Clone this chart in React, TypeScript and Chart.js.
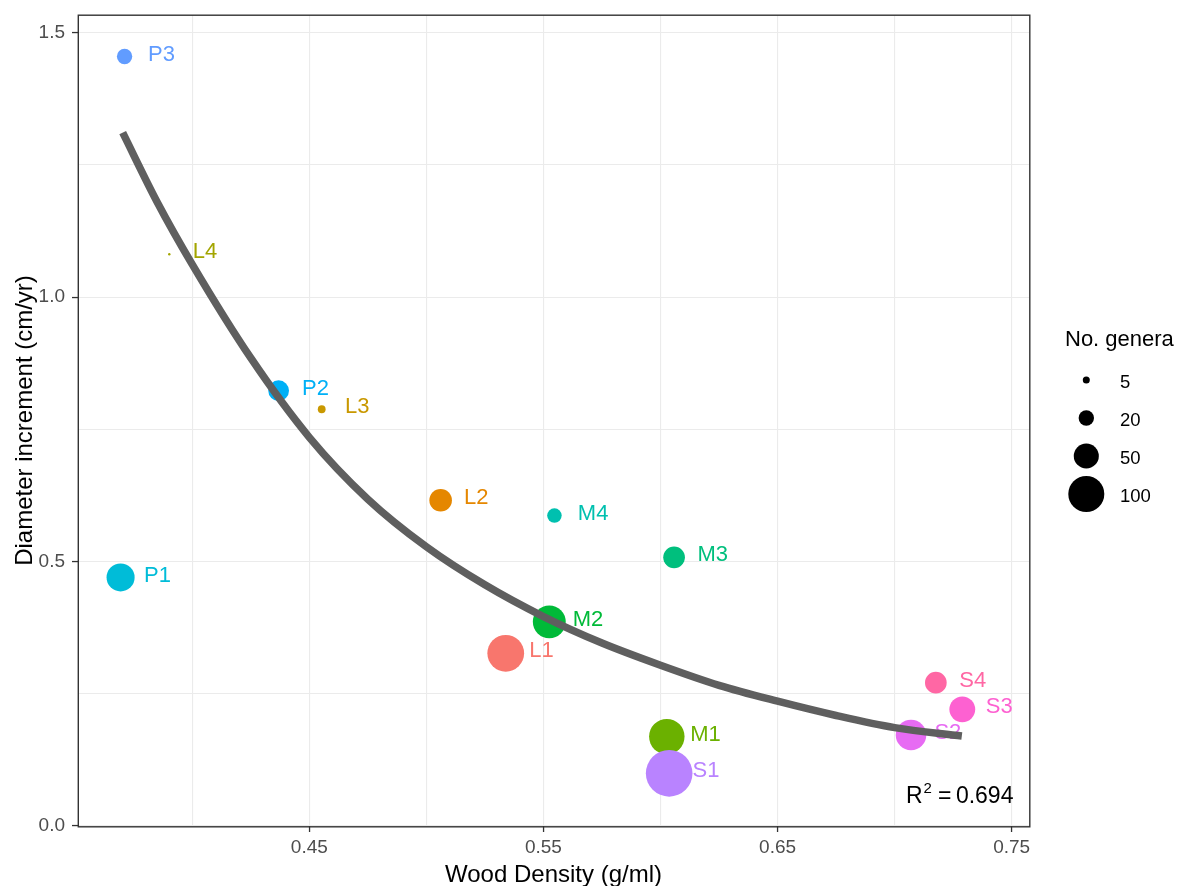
import React, { useEffect, useRef } from "react";
import { Chart, registerables } from "chart.js";

Chart.register(...registerables);

// ---------------- data ----------------
const groupLabels = ["L1", "L2", "L3", "L4", "M1", "M2", "M3", "M4", "P1", "P2", "P3", "S1", "S2", "S3", "S4"];
const woodDensity = [0.5339, 0.5061, 0.4553, 0.3902, 0.6027, 0.5525, 0.6058, 0.5547, 0.3694, 0.4369, 0.3711, 0.6037, 0.707, 0.7289, 0.7176];
const diameterIncrement = [0.3265, 0.616, 0.788, 1.081, 0.169, 0.386, 0.508, 0.587, 0.47, 0.823, 1.455, 0.0996, 0.172, 0.2206, 0.271];
const noGenera = [104, 41, 6, 1, 97, 84, 38, 18, 62, 35, 20, 165, 73, 53, 38];
const groupColors = [
  "#F8766D", "#E58700", "#C99800", "#A3A500", "#6BB100", "#00BA38", "#00BF7D", "#00C0AF",
  "#00BCD8", "#00B0F6", "#619CFF", "#B983FF", "#E76BF3", "#FD61D1", "#FF67A4",
];

// fitted curve
const curveX = [0.3703, 0.385, 0.4, 0.425, 0.45, 0.475, 0.5, 0.525, 0.55, 0.575, 0.6, 0.625, 0.65, 0.675, 0.7, 0.7287];
const curveY = [1.311, 1.18, 1.062, 0.885, 0.735, 0.618, 0.528, 0.456, 0.396, 0.346, 0.304, 0.266, 0.236, 0.209, 0.186, 0.17];

const xGridValues = [0.4, 0.45, 0.5, 0.55, 0.6, 0.65, 0.7, 0.75];
const xMajorTicks = [0.45, 0.55, 0.65, 0.75];
const yGridValues = [0, 0.25, 0.5, 0.75, 1.0, 1.25, 1.5];
const yMajorTicks = [0, 0.5, 1.0, 1.5];

const legendTitle = "No. genera";
const legendValues = [5, 20, 50, 100];
const r2Value = "0.694";

const xTitle = "Wood Density (g/ml)";
const yTitle = "Diameter increment (cm/yr)";

// ---------------- styling ----------------
const X_MIN = 0.35121;
const X_MAX = 0.75739;
const Y_MIN = 0;
const Y_MAX = 1.5335;
const LABEL_NUDGE_X = 0.01;
const FONT = "'Liberation Sans', Arial, Helvetica, sans-serif";

// ggplot-like area size scale (radius in px)
const sizeToRadius = (n: number) => 1.2 + 1.867 * (Math.sqrt(n) - 1);

const isIn = (arr: number[], v: number) => arr.some((t) => Math.abs(t - v) < 1e-9);

const overlayPlugin = {
  id: "overlay",
  afterDatasetDraw(chart: any, args: any) {
    if (args.index !== 1) return;
    const ctx = chart.ctx;
    const xs = chart.scales.x;
    const ys = chart.scales.y;
    ctx.save();
    ctx.font = `22px ${FONT}`;
    ctx.textAlign = "left";
    ctx.textBaseline = "middle";
    groupLabels.forEach((lab, i) => {
      const px = xs.getPixelForValue(woodDensity[i] + LABEL_NUDGE_X);
      const py = ys.getPixelForValue(diameterIncrement[i]);
      ctx.fillStyle = groupColors[i];
      ctx.fillText(lab, px, py - 2);
    });
    ctx.restore();
  },
  afterDraw(chart: any) {
    const ctx = chart.ctx;
    const ca = chart.chartArea;
    ctx.save();
    // panel border
    ctx.strokeStyle = "#333333";
    ctx.lineWidth = 1.4;
    ctx.strokeRect(ca.left + 0.3, ca.top + 0.2, ca.right - ca.left + 0.5, ca.bottom - ca.top + 0.6);

    // R^2 annotation
    ctx.fillStyle = "#000000";
    ctx.textBaseline = "alphabetic";
    ctx.textAlign = "left";
    let x = ca.right - 123;
    const base = ca.bottom - 23;
    ctx.font = `23px ${FONT}`;
    ctx.fillText("R", x, base);
    x += ctx.measureText("R").width + 1;
    ctx.font = `15px ${FONT}`;
    ctx.fillText("2", x, base - 10);
    x += ctx.measureText("2").width + 6;
    ctx.font = `23px ${FONT}`;
    ctx.fillText("=", x, base);
    x += ctx.measureText("=").width + 4.5;
    ctx.fillText(r2Value, x, base);

    // size legend
    ctx.font = `22px ${FONT}`;
    ctx.fillText(legendTitle, ca.right + 36, 346);
    legendValues.forEach((v, i) => {
      const cy = 380 + i * 38;
      const cx = ca.right + 57.3;
      ctx.beginPath();
      ctx.arc(cx, cy, sizeToRadius(v), 0, Math.PI * 2);
      ctx.fillStyle = "#000000";
      ctx.fill();
      ctx.font = `18.5px ${FONT}`;
      ctx.textBaseline = "middle";
      ctx.fillText(String(v), ca.right + 91, cy + 2.5);
      ctx.textBaseline = "alphabetic";
    });
    ctx.restore();
  },
};

export default function App() {
  const canvasRef = useRef<HTMLCanvasElement | null>(null);

  useEffect(() => {
    if (!canvasRef.current) return;
    const chart = new Chart(canvasRef.current, {
      type: "scatter",
      data: {
        datasets: [
          {
            type: "line",
            label: "fit",
            data: curveX.map((x, i) => ({ x, y: curveY[i] })),
            borderColor: "#5F5F5F",
            borderWidth: 7.5,
            borderCapStyle: "butt",
            pointRadius: 0,
            fill: false,
            cubicInterpolationMode: "monotone",
            showLine: true,
          } as any,
          {
            type: "scatter",
            label: "groups",
            data: woodDensity.map((x, i) => ({ x, y: diameterIncrement[i] })),
            pointBackgroundColor: groupColors,
            pointBorderWidth: 0,
            pointBorderColor: "rgba(0,0,0,0)",
            pointRadius: noGenera.map(sizeToRadius),
            pointHoverRadius: noGenera.map(sizeToRadius),
          } as any,
        ],
      },
      options: {
        animation: false,
        responsive: false,
        events: [],
        layout: { autoPadding: false, padding: { left: 0, top: 15, right: 151, bottom: 0 } },
        plugins: { legend: { display: false }, tooltip: { enabled: false } },
        scales: {
          x: {
            type: "linear",
            min: X_MIN,
            max: X_MAX,
            afterBuildTicks: (axis: any) => {
              axis.ticks = xGridValues.map((v) => ({ value: v }));
            },
            afterFit: (axis: any) => {
              axis.height = 60;
              axis.paddingLeft = 0;
              axis.paddingRight = 0;
            },
            border: { display: false },
            grid: {
              color: "#EBEBEB",
              lineWidth: 1.1,
              drawTicks: true,
              tickLength: 6,
              tickWidth: 1.3,
              tickColor: (c: any) => (c.tick && isIn(xMajorTicks, c.tick.value) ? "#333333" : "rgba(0,0,0,0)"),
            },
            ticks: {
              autoSkip: false,
              maxRotation: 0,
              minRotation: 0,
              padding: 4,
              color: "#4D4D4D",
              font: { family: FONT, size: 19 },
              callback: (v: any) => (isIn(xMajorTicks, Number(v)) ? Number(v).toFixed(2) : ""),
            },
            title: {
              display: true,
              text: xTitle,
              color: "#000000",
              font: { family: FONT, size: 24, lineHeight: 1 },
              padding: { top: 0, bottom: -1 },
            },
          },
          y: {
            type: "linear",
            min: Y_MIN,
            max: Y_MAX,
            afterBuildTicks: (axis: any) => {
              axis.ticks = yGridValues.map((v) => ({ value: v }));
            },
            afterFit: (axis: any) => {
              axis.width = 78;
              axis.paddingTop = 0;
              axis.paddingBottom = 0;
            },
            border: { display: false },
            grid: {
              color: "#EBEBEB",
              lineWidth: 1.1,
              drawTicks: true,
              tickLength: 6,
              tickWidth: 1.3,
              tickColor: (c: any) => (c.tick && isIn(yMajorTicks, c.tick.value) ? "#333333" : "rgba(0,0,0,0)"),
            },
            ticks: {
              autoSkip: false,
              padding: 7,
              color: "#4D4D4D",
              font: { family: FONT, size: 19 },
              callback: (v: any) => (isIn(yMajorTicks, Number(v)) ? Number(v).toFixed(1) : ""),
            },
            title: {
              display: true,
              text: yTitle,
              color: "#000000",
              font: { family: FONT, size: 24, lineHeight: 1 },
              padding: { top: 13, bottom: 0 },
            },
          },
        },
      },
      plugins: [overlayPlugin],
    } as any);
    return () => chart.destroy();
  }, []);

  return (
    <div style={{ position: "absolute", left: 0, top: 0, width: 1180, height: 886, background: "#ffffff" }}>
      <canvas ref={canvasRef} width={1180} height={886} style={{ display: "block", width: 1180, height: 886 }} />
    </div>
  );
}
